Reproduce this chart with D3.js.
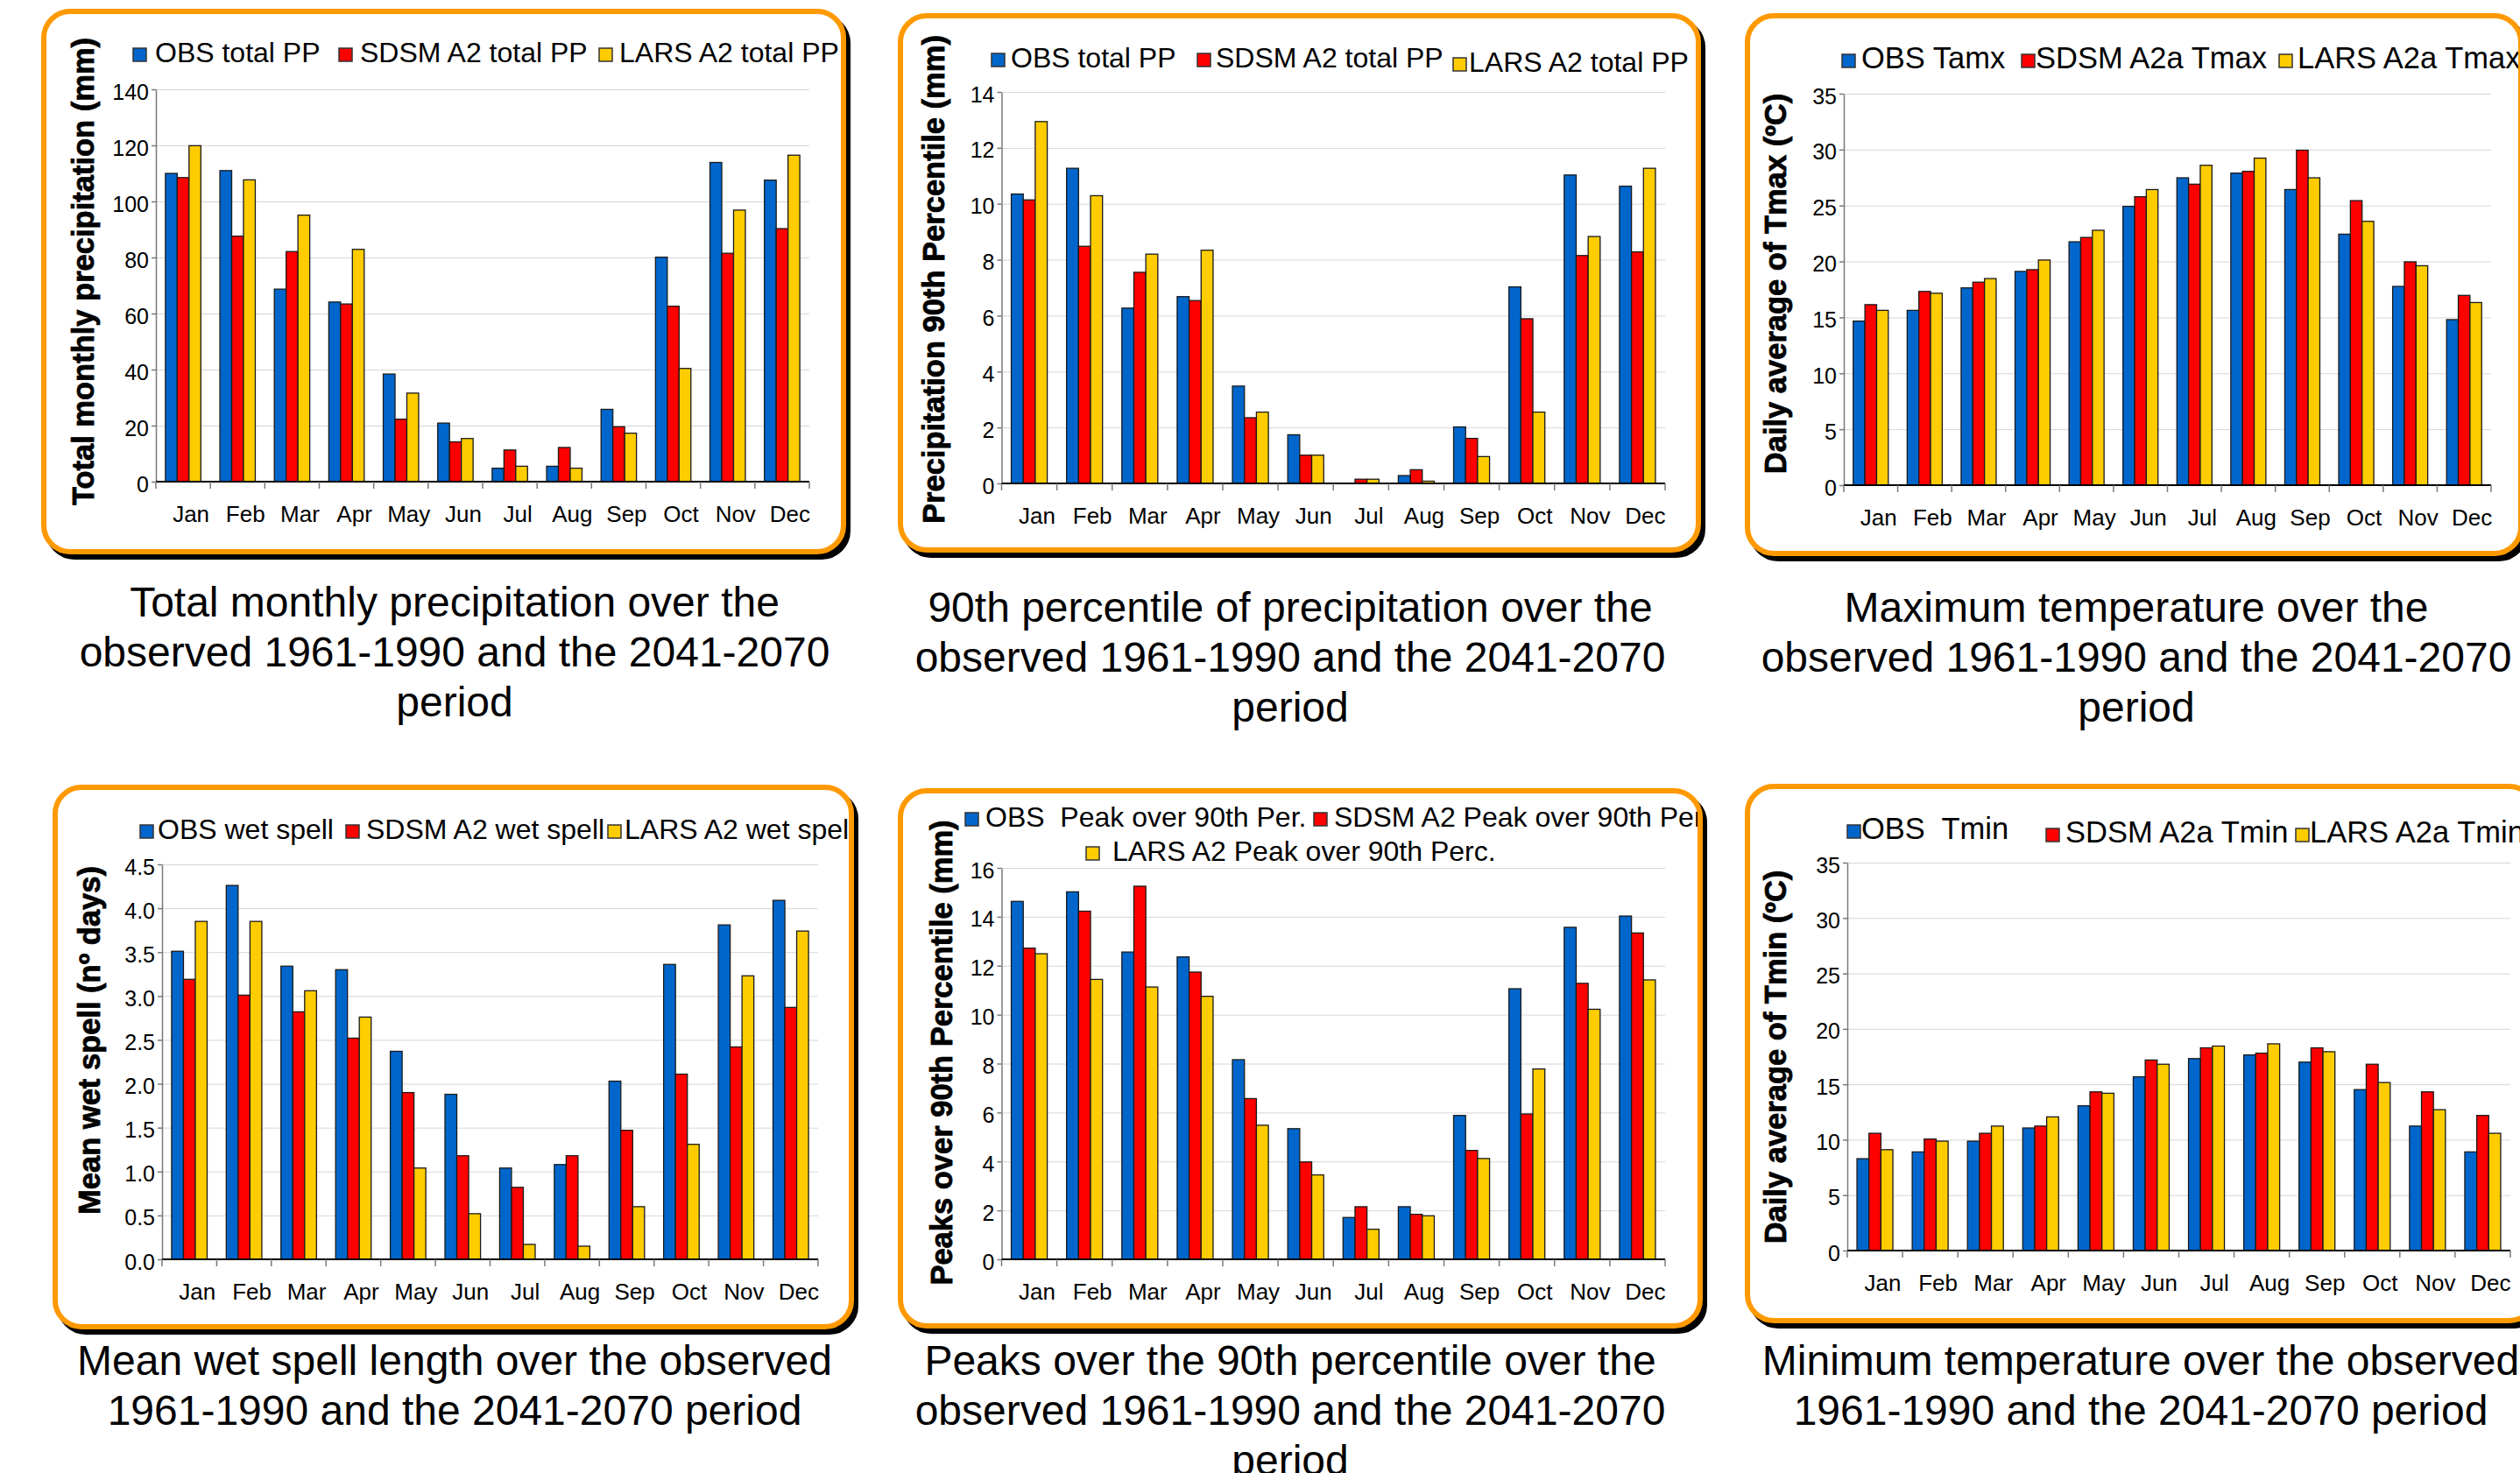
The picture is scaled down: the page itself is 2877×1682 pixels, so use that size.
<!DOCTYPE html>
<html>
<head>
<meta charset="utf-8">
<script src="https://cdn.jsdelivr.net/npm/d3@7"></script>
<style>
  body { margin: 0; background: #fff; overflow: hidden; }
  svg { display: block; font-family: "Liberation Sans", Arial, sans-serif; }
</style>
</head>
<body>
<svg id="chart" width="2877" height="1682"></svg>
<script>
// months on every x axis
const months = ["Jan","Feb","Mar","Apr","May","Jun","Jul","Aug","Sep","Oct","Nov","Dec"];
const seriesColors = ["#0066cc", "#ff0000", "#ffcc00"];

// 1: total monthly precipitation (mm)
const totalObs  = [110, 111, 68.7, 64.1, 38.4, 20.9, 4.8, 5.5, 25.8, 80.1, 113.9, 107.6];
const totalSdsm = [108.5, 87.6, 82.1, 63.4, 22.3, 14.2, 11.3, 12.2, 19.6, 62.6, 81.5, 90.3];
const totalLars = [119.9, 107.7, 95.1, 82.9, 31.6, 15.4, 5.5, 4.8, 17.3, 40.4, 96.9, 116.5];

// 2: 90th percentile of precipitation (mm)
const p90Obs  = [10.35, 11.27, 6.27, 6.68, 3.48, 1.74, 0, 0.28, 2.02, 7.03, 11.03, 10.63];
const p90Sdsm = [10.14, 8.48, 7.55, 6.54, 2.35, 1.01, 0.15, 0.49, 1.61, 5.89, 8.15, 8.28];
const p90Lars = [12.94, 10.29, 8.2, 8.34, 2.55, 1.01, 0.15, 0.08, 0.96, 2.55, 8.83, 11.27];

// 3: daily average of Tmax (ºC)
const tmaxObs  = [14.67, 15.63, 17.64, 19.11, 21.76, 24.93, 27.48, 27.9, 26.43, 22.44, 17.77, 14.8];
const tmaxSdsm = [16.14, 17.32, 18.15, 19.27, 22.15, 25.79, 26.91, 28.06, 29.95, 25.44, 19.97, 16.97];
const tmaxLars = [15.63, 17.16, 18.47, 20.13, 22.79, 26.43, 28.6, 29.24, 27.48, 23.59, 19.62, 16.33];

// 4: mean wet spell (nº days)
const wetObs  = [3.51, 4.26, 3.34, 3.30, 2.37, 1.88, 1.04, 1.08, 2.03, 3.36, 3.81, 4.09];
const wetSdsm = [3.19, 3.01, 2.82, 2.52, 1.90, 1.18, 0.82, 1.18, 1.47, 2.11, 2.42, 2.87];
const wetLars = [3.85, 3.85, 3.06, 2.76, 1.04, 0.52, 0.17, 0.15, 0.60, 1.31, 3.23, 3.74];

// 5: peaks over 90th percentile (mm)
const peakObs  = [14.63, 15.02, 12.56, 12.36, 8.16, 5.34, 1.71, 2.15, 5.88, 11.06, 13.57, 14.03];
const peakSdsm = [12.72, 14.23, 15.25, 11.74, 6.57, 3.98, 2.15, 1.84, 4.45, 5.94, 11.28, 13.34];
const peakLars = [12.49, 11.44, 11.13, 10.75, 5.48, 3.45, 1.23, 1.78, 4.12, 7.78, 10.22, 11.42];

// 6: daily average of Tmin (ºC)
const tminObs  = [8.29, 8.9, 9.87, 11.06, 13.06, 15.68, 17.32, 17.65, 17.0, 14.52, 11.23, 8.9];
const tminSdsm = [10.58, 10.06, 10.58, 11.23, 14.32, 17.19, 18.29, 17.81, 18.29, 16.81, 14.32, 12.19];
const tminLars = [9.10, 9.87, 11.23, 12.06, 14.19, 16.81, 18.45, 18.65, 17.94, 15.16, 12.71, 10.58];

//////////////////////////
// panel layout
//////////////////////////
const panels = [
  {
    frame: [50, 13, 913, 617],
    plot: {left: 178, right: 924, top: 102, bottom: 550},
    yMax: 140, yStep: 20, fmt: "d",
    data: [totalObs, totalSdsm, totalLars],
    yTitle: "Total monthly precipitation (mm)", titleAt: [107, 310],
    legendSize: 32,
    legend: [
      {label: "OBS total PP", bx: 152, tx: 177, y: 71},
      {label: "SDSM A2 total PP", bx: 387, tx: 411, y: 71},
      {label: "LARS A2 total PP", bx: 684, tx: 707, y: 71}
    ],
    caption: ["Total monthly precipitation over the", "observed 1961-1990 and the 2041-2070", "period"],
    capAt: [519, 704]
  },
  {
    frame: [1028, 18, 911, 610],
    plot: {left: 1143.5, right: 1901, top: 105, bottom: 552},
    yMax: 14, yStep: 2, fmt: "d",
    data: [p90Obs, p90Sdsm, p90Lars],
    yTitle: "Precipitation 90th Percentile (mm)", titleAt: [1078, 319],
    legendSize: 32,
    legend: [
      {label: "OBS total PP", bx: 1132, tx: 1154, y: 77},
      {label: "SDSM A2 total PP", bx: 1367, tx: 1388, y: 77},
      {label: "LARS A2 total PP", bx: 1659, tx: 1677, y: 82}
    ],
    caption: ["90th percentile of precipitation over the", "observed 1961-1990 and the 2041-2070", "period"],
    capAt: [1473, 710]
  },
  {
    frame: [1995, 18, 883, 614],
    plot: {left: 2105, right: 2844, top: 107, bottom: 554},
    yMax: 35, yStep: 5, fmt: "d",
    data: [tmaxObs, tmaxSdsm, tmaxLars],
    yTitle: "Daily average of Tmax (ºC)", titleAt: [2039, 324],
    legendSize: 34.5,
    legend: [
      {label: "OBS Tamx", bx: 2103, tx: 2125, y: 78},
      {label: "SDSM A2a Tmax", bx: 2308, tx: 2324, y: 78},
      {label: "LARS A2a Tmax", bx: 2602, tx: 2623, y: 78}
    ],
    caption: ["Maximum temperature over the", "observed 1961-1990 and the 2041-2070", "period"],
    capAt: [2439, 710]
  },
  {
    frame: [63, 899, 909, 616],
    plot: {left: 185, right: 934, top: 987, bottom: 1438},
    yMax: 4.5, yStep: 0.5, fmt: ".1f",
    data: [wetObs, wetSdsm, wetLars],
    yTitle: "Mean wet spell (nº days)", titleAt: [114, 1188],
    legendSize: 32,
    legend: [
      {label: "OBS wet spell", bx: 160, tx: 180, y: 958},
      {label: "SDSM A2 wet spell", bx: 395, tx: 418, y: 958},
      {label: "LARS A2 wet spell", bx: 694, tx: 713, y: 958}
    ],
    caption: ["Mean wet spell length over the observed", "1961-1990 and the 2041-2070 period"],
    capAt: [519, 1570]
  },
  {
    frame: [1028, 903, 913, 611],
    plot: {left: 1143.5, right: 1901, top: 991, bottom: 1438},
    yMax: 16, yStep: 2, fmt: "d",
    data: [peakObs, peakSdsm, peakLars],
    yTitle: "Peaks over 90th Percentile (mm)", titleAt: [1087, 1202],
    legendSize: 32,
    legend: [
      {label: "OBS  Peak over 90th Per.", bx: 1102, tx: 1125, y: 944},
      {label: "SDSM A2 Peak over 90th Perc.", bx: 1500, tx: 1523, y: 944},
      {label: "LARS A2 Peak over 90th Perc.", bx: 1240, tx: 1270, y: 983}
    ],
    caption: ["Peaks over the 90th percentile over the", "observed 1961-1990 and the 2041-2070", "period"],
    capAt: [1473, 1570]
  },
  {
    frame: [1995, 898, 900, 610],
    plot: {left: 2109, right: 2866, top: 985, bottom: 1428},
    yMax: 35, yStep: 5, fmt: "d",
    data: [tminObs, tminSdsm, tminLars],
    yTitle: "Daily average of Tmin (ºC)", titleAt: [2039, 1207],
    legendSize: 34.5,
    legend: [
      {label: "OBS  Tmin", bx: 2109, tx: 2125, y: 958},
      {label: "SDSM A2a Tmin", bx: 2336, tx: 2358, y: 962},
      {label: "LARS A2a Tmin", bx: 2621, tx: 2637, y: 962}
    ],
    caption: ["Minimum temperature over the observed", "1961-1990 and the 2041-2070 period"],
    capAt: [2444, 1570]
  }
];

const svg = d3.select("#chart");
const defs = svg.append("defs");

panels.forEach((p, pi) => {
  const g = svg.append("g");
  const [fx, fy, fw, fh] = p.frame;
  const L = p.plot.left, R = p.plot.right;

  //frame: black shadow + orange rounded box
  g.append("rect")
    .attr("x", fx + 5).attr("y", fy + 6)
    .attr("width", fw).attr("height", fh)
    .attr("rx", 30)
    .attr("fill", "#000").attr("stroke", "#000").attr("stroke-width", 6);
  g.append("rect")
    .attr("x", fx).attr("y", fy)
    .attr("width", fw).attr("height", fh)
    .attr("rx", 30)
    .attr("fill", "#fff").attr("stroke", "#ff9900").attr("stroke-width", 6);

  defs.append("clipPath").attr("id", "clip" + pi)
    .append("rect")
    .attr("x", fx + 3).attr("y", fy + 3)
    .attr("width", fw - 6).attr("height", fh - 6);

  //scales
  const y = d3.scaleLinear().domain([0, p.yMax]).range([p.plot.bottom, p.plot.top]);
  const ticks = d3.range(0, p.yMax + p.yStep / 2, p.yStep);
  const x0 = d3.scaleBand().domain(months).range([L, R])
    .paddingInner(0.35).paddingOuter(0.175);
  const x1 = d3.scaleBand().domain([0, 1, 2]).range([0, x0.bandwidth()]);
  const xEdge = d3.scaleBand().domain(months).range([L, R]);

  //grid
  g.append("g")
    .attr("transform", `translate(${L},0)`)
    .call(d3.axisLeft(y).tickValues(ticks).tickSize(-(R - L)).tickFormat(""))
    .call(a => a.select(".domain").remove())
    .selectAll("line").attr("stroke", "#d6d6d6").attr("stroke-width", 1);

  //bars
  const rows = months.map((m, i) => ({m: m, vals: p.data.map(s => s[i])}));
  g.append("g")
    .selectAll("g")
    .data(rows)
    .join("g")
    .attr("transform", d => `translate(${x0(d.m)},0)`)
    .selectAll("rect")
    .data(d => d.vals.map((v, k) => ({v: v, k: k})))
    .join("rect")
    .attr("x", d => x1(d.k))
    .attr("y", d => y(d.v))
    .attr("width", x1.bandwidth())
    .attr("height", d => y(0) - y(d.v))
    .attr("fill", d => seriesColors[d.k])
    .attr("stroke", "#1a1a1a")
    .attr("stroke-width", 1.3);

  //y axis
  const yAx = g.append("g")
    .attr("transform", `translate(${L},0)`)
    .call(d3.axisLeft(y).tickValues(ticks).tickSize(5).tickSizeOuter(0).tickPadding(3)
      .tickFormat(d3.format(p.fmt)));
  yAx.select(".domain").attr("stroke", "#7a7a7a").attr("stroke-width", 1.5);
  yAx.selectAll(".tick line").attr("stroke", "#7a7a7a").attr("stroke-width", 1.5);
  yAx.selectAll("text").attr("font-size", 25).attr("fill", "#000")
    .attr("font-family", "Liberation Sans, Arial, sans-serif").attr("dy", "0.44em");

  //x axis: line, boundary ticks, month labels
  g.append("line")
    .attr("x1", L).attr("x2", R)
    .attr("y1", y(0)).attr("y2", y(0))
    .attr("stroke", "#000").attr("stroke-width", 2);
  g.append("g")
    .selectAll("line")
    .data(months.concat(["end"]))
    .join("line")
    .attr("x1", (d, i) => i < 12 ? xEdge(d) : R)
    .attr("x2", (d, i) => i < 12 ? xEdge(d) : R)
    .attr("y1", y(0)).attr("y2", y(0) + 8)
    .attr("stroke", "#7a7a7a").attr("stroke-width", 1.5);
  const xAx = g.append("g")
    .attr("transform", `translate(0,${y(0)})`)
    .call(d3.axisBottom(x0).tickSize(0).tickPadding(28));
  xAx.select(".domain").remove();
  xAx.selectAll("text").attr("font-size", 26).attr("fill", "#000")
    .attr("font-family", "Liberation Sans, Arial, sans-serif").attr("dx", 9);

  //y title
  g.append("text")
    .attr("transform", `translate(${p.titleAt[0]},${p.titleAt[1]}) rotate(-90)`)
    .attr("text-anchor", "middle")
    .attr("font-size", 34.5)
    .attr("font-weight", "bold")
    .attr("stroke", "#000")
    .attr("stroke-width", 0.8)
    .text(p.yTitle);

  //legend
  const leg = g.append("g").attr("clip-path", `url(#clip${pi})`);
  p.legend.forEach((item, k) => {
    leg.append("rect")
      .attr("x", item.bx).attr("y", item.y - 16)
      .attr("width", 15).attr("height", 15)
      .attr("fill", seriesColors[k])
      .attr("stroke", "#333").attr("stroke-width", 1.5);
    leg.append("text")
      .attr("x", item.tx).attr("y", item.y)
      .attr("font-size", p.legendSize)
      .style("white-space", "pre")
      .text(item.label);
  });

  //caption under the box
  const cap = g.append("text")
    .attr("text-anchor", "middle")
    .attr("font-size", 48)
    .attr("fill", "#000");
  p.caption.forEach((line, k) => {
    cap.append("tspan")
      .attr("x", p.capAt[0])
      .attr("y", p.capAt[1] + k * 57)
      .text(line);
  });
});
</script>
</body>
</html>
